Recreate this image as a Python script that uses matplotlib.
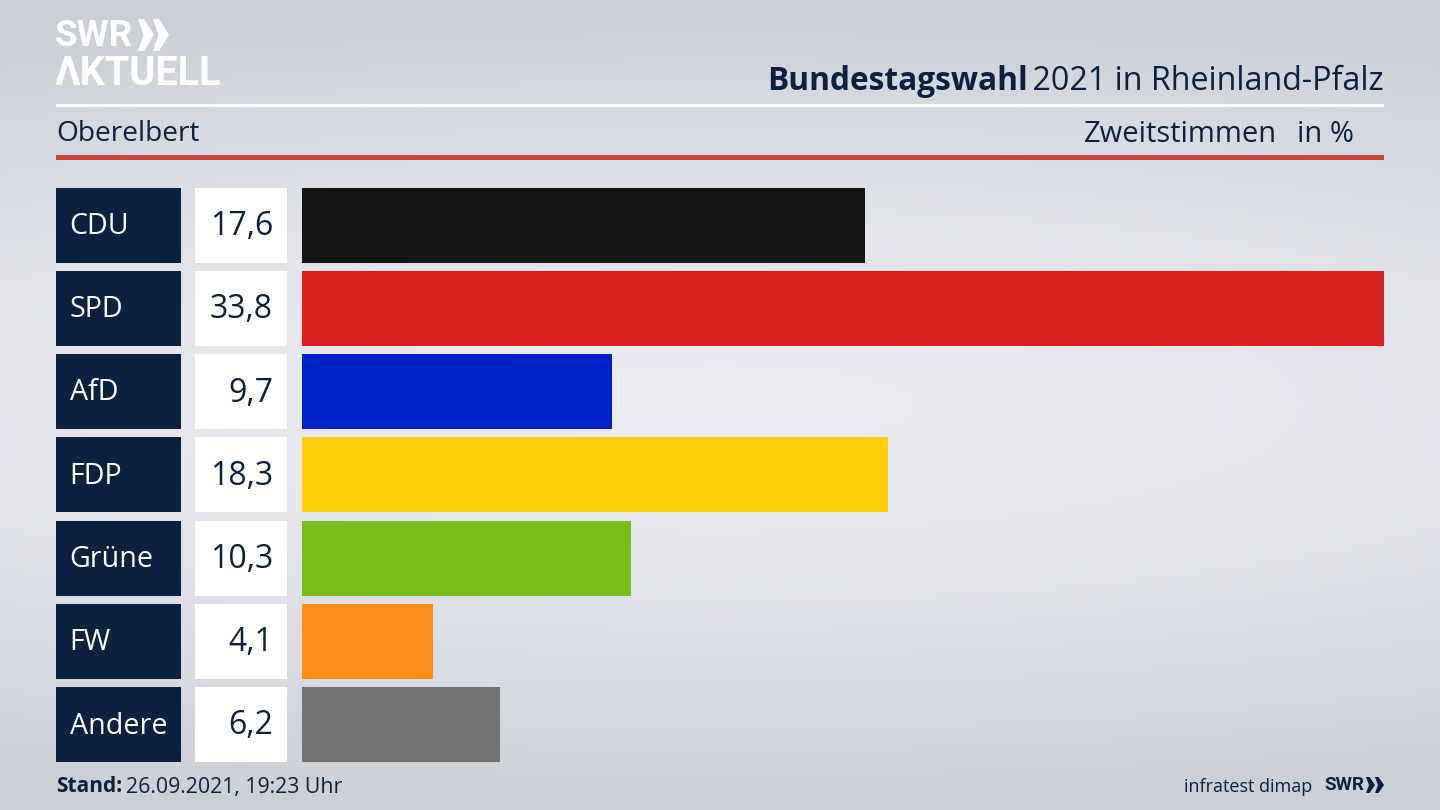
import numpy as np
import matplotlib
matplotlib.use("Agg")
import matplotlib.pyplot as plt
from matplotlib.patches import Rectangle, Polygon

parties = ["CDU", "SPD", "AfD", "FDP", "Grüne", "FW", "Andere"]
values = [17.6, 33.8, 9.7, 18.3, 10.3, 4.1, 6.2]
value_labels = ["17,6", "33,8", "9,7", "18,3", "10,3", "4,1", "6,2"]
colors = ["#141414", "#d9201e", "#0022c8", "#ffcd09", "#78bd1a", "#ff8f17", "#727375"]

NAVY = "#0c2040"
W, H = 1440, 810
plt.rcParams["font.family"] = "Open Sans"
LOGO = ["Liberation Sans Narrow", "Roboto", "Open Sans"]

fig = plt.figure(figsize=(W / 100, H / 100), dpi=100)

bg = fig.add_axes([0, 0, 1, 1])
bg.axis("off")
yy, xx = np.mgrid[0:1:200j, 0:1:356j]
d = np.clip(np.sqrt(((xx - 0.5) / 1.3) ** 2 + ((yy - 0.5) / 0.5) ** 2), 0, 1)
top = np.array([0xcb, 0xcf, 0xd6]) / 255
mid = np.array([0xeb, 0xec, 0xf2]) / 255
grad = mid[None, None, :] + (top - mid)[None, None, :] * d[..., None] ** 1.5
bg.imshow(grad, extent=(0, W, H, 0), aspect="auto", interpolation="bicubic", zorder=0)
bg.set_xlim(0, W)
bg.set_ylim(H, 0)

bg.add_patch(Rectangle((56, 104), 1328, 3, color="white", lw=0, zorder=2))
bg.add_patch(Rectangle((56, 155), 1328, 5, color="#c9473a", lw=0, zorder=2))

# logo
bg.text(55, 36, "SWR", color="white", fontsize=26.5, fontweight="bold", family=LOGO,
        va="center", ha="left", zorder=3)
for x0 in (138, 153):
    bg.add_patch(Polygon([(x0, 19), (x0 + 6, 19), (x0 + 16, 35), (x0 + 6, 51), (x0, 51), (x0 + 5.5, 35)],
                         closed=True, color="white", lw=0, zorder=3))
bg.text(55, 74, "ΛKTUELL", color="white", fontsize=28.5, fontweight="bold", family=LOGO,
        va="center", ha="left", zorder=3)

# headings
t = bg.text(1384, 81, " 2021 in Rheinland-Pfalz", color=NAVY, fontsize=23.2, ha="right", va="center", zorder=3)
fig.canvas.draw()
bb = t.get_window_extent()
bg.text(bb.x0 + 3, 81, "Bundestagswahl", color=NAVY, fontsize=22.8, fontweight="bold", ha="right", va="center", zorder=3)
bg.text(56, 134, "Oberelbert", color=NAVY, fontsize=20.2, ha="left", va="center", zorder=3)
bg.text(1277, 134, "Zweitstimmen", color=NAVY, fontsize=21, ha="right", va="center", zorder=3)
bg.text(1354, 134, "in %", color=NAVY, fontsize=21, ha="right", va="center", zorder=3)

# bars: axes span whole category bands so each 75 px bar lines up with its boxes
pitch = 83.25
first = 187.5
bar_h = 75
ax_top = first + bar_h / 2 - pitch / 2
ax_bot = ax_top + pitch * len(parties)
ax = fig.add_axes([301.5 / W, 1 - ax_bot / H, (1384 - 301.5) / W, (ax_bot - ax_top) / H], zorder=2)
ax.patch.set_alpha(0)
pos = np.arange(len(parties))
ax.barh(pos, values, height=bar_h / pitch, color=colors, linewidth=0)
ax.set_xlim(0, 33.8)
ax.set_ylim(len(parties) - 0.5, -0.5)
ax.axis("off")

for i, (p, v) in enumerate(zip(parties, value_labels)):
    y0 = first + i * pitch
    bg.add_patch(Rectangle((56, y0), 125, bar_h, color=NAVY, lw=0, zorder=2))
    bg.add_patch(Rectangle((195, y0), 92, bar_h, color="white", lw=0, zorder=2))
    bg.text(69.5, y0 + 39, p, color="white", fontsize=20.6, ha="left", va="center", zorder=3)
    bg.text(273, y0 + 39, v, color=NAVY, fontsize=23, ha="right", va="center", zorder=3)

# footer
f = bg.text(56, 787, "Stand:", color=NAVY, fontsize=15, fontweight="bold", ha="left", va="center", zorder=3)
fig.canvas.draw()
bb = f.get_window_extent()
bg.text(bb.x1 + 4, 787, "26.09.2021, 19:23 Uhr", color=NAVY, fontsize=15.3, ha="left", va="center", zorder=3)
bg.text(1312, 787, "infratest dimap", color=NAVY, fontsize=13, ha="right", va="center", zorder=3)
bg.text(1324, 785, "SWR", color=NAVY, fontsize=13.5, fontweight="bold", family=LOGO, ha="left", va="center", zorder=3)
for x0 in (1366, 1375):
    bg.add_patch(Polygon([(x0, 777), (x0 + 3.5, 777), (x0 + 9, 785), (x0 + 3.5, 793), (x0, 793), (x0 + 3, 785)],
                         closed=True, color=NAVY, lw=0, zorder=3))

fig.savefig("out.png", dpi=100)
